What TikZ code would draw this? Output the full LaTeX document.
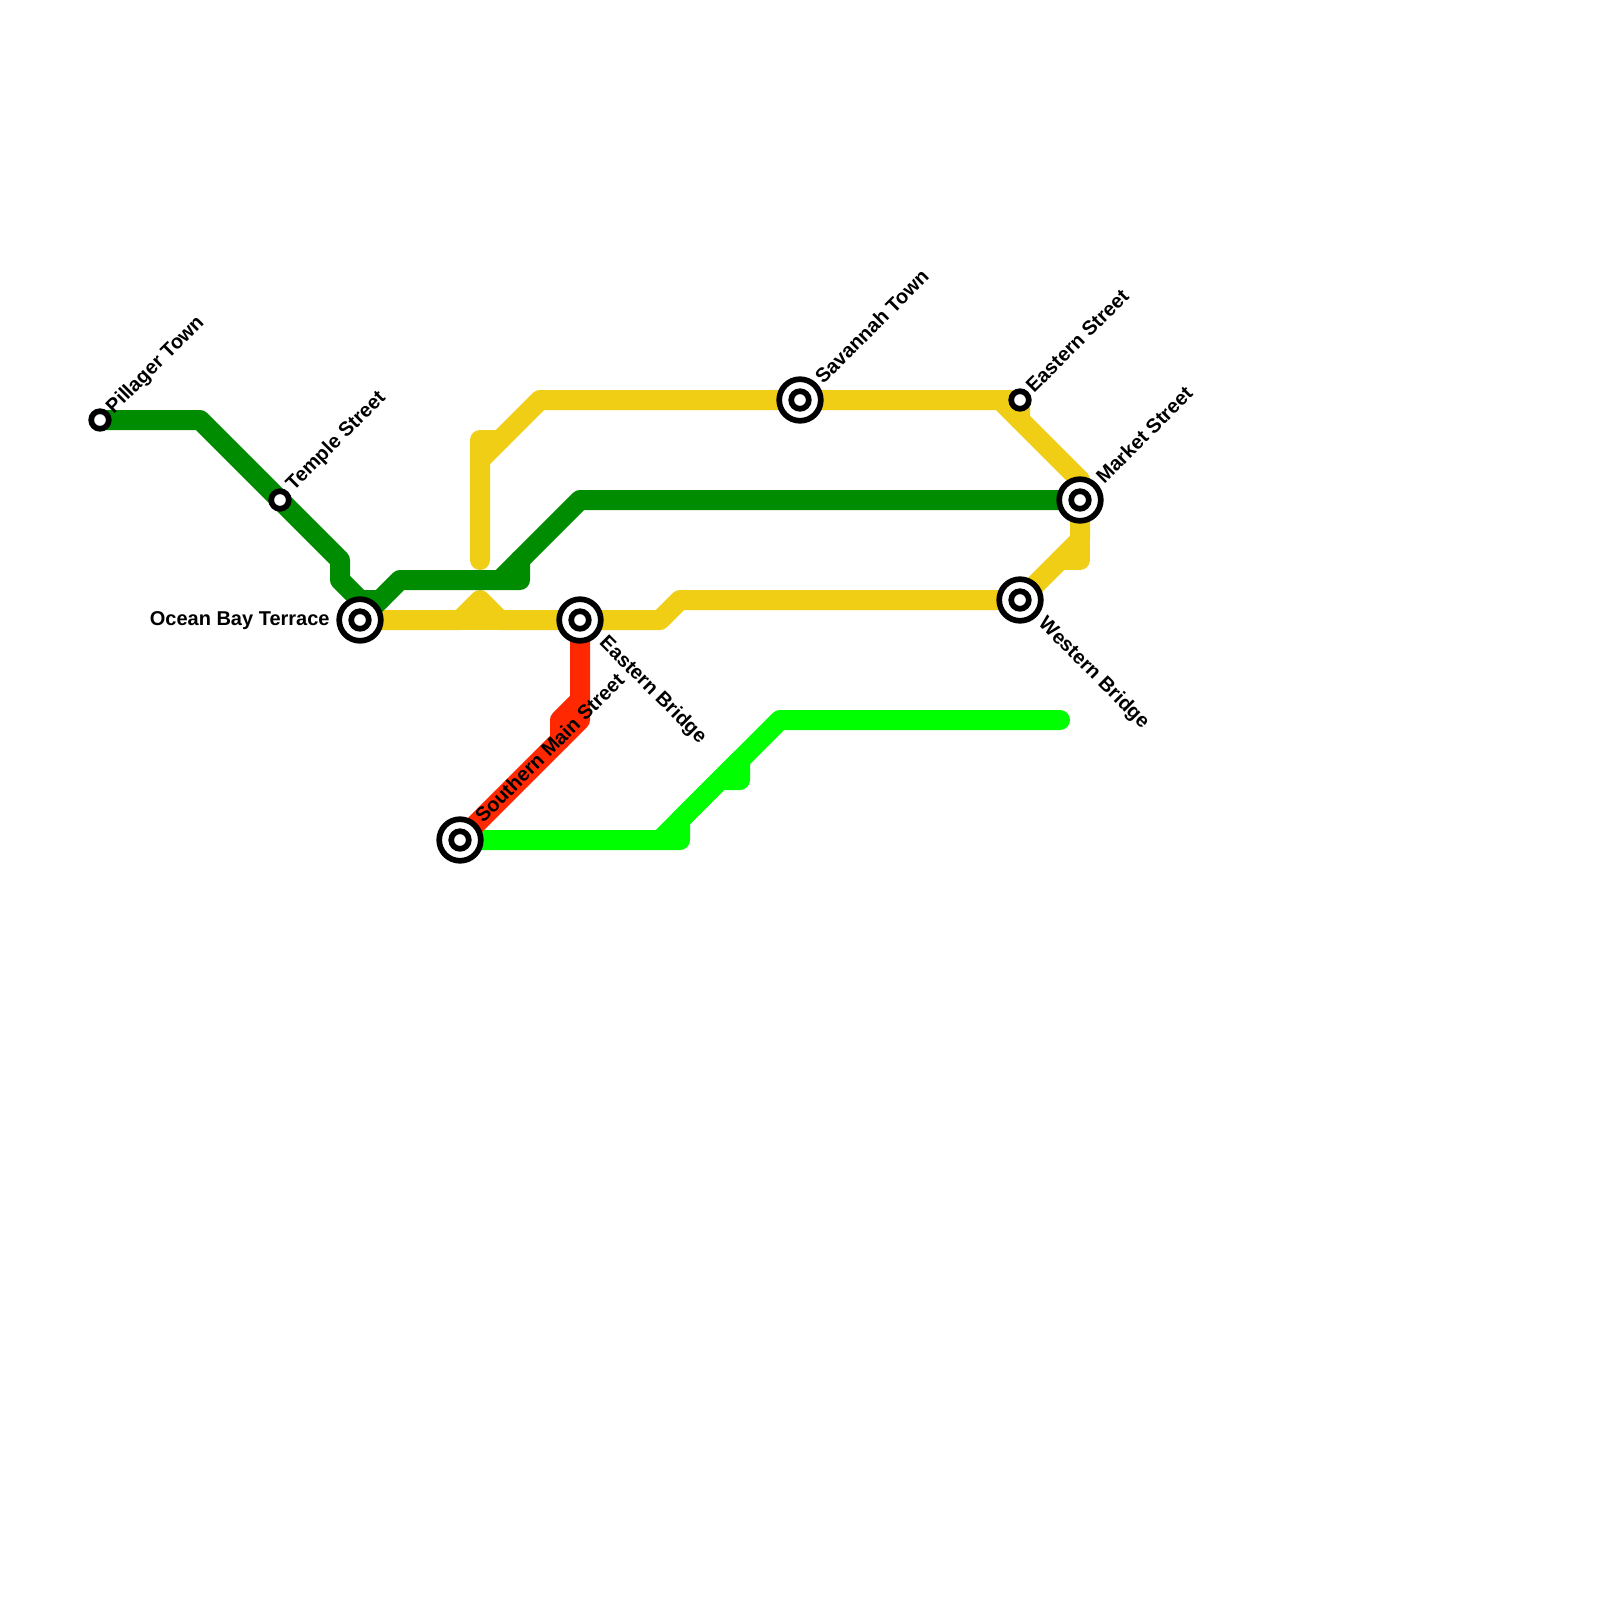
\documentclass[tikz,border=0pt]{standalone}
\usepackage{fontspec}
\setmainfont{Liberation Sans}
\tikzset{
  railpath/.style={line width=10pt,line join=round,line cap=round},
  yellowline/.style={railpath,draw={rgb,255:red,240;green,206;blue,21}},
  darkline/.style={railpath,draw={rgb,255:red,0;green,140;blue,0}},
  brightline/.style={railpath,draw={rgb,255:red,0;green,255;blue,0}},
  redline/.style={railpath,draw={rgb,255:red,255;green,40;blue,0}},
  ringouter/.style={circle,draw=black,fill=white,line width=2.85pt,minimum size=20.8pt,inner sep=0pt,outer sep=0pt},
  ringinner/.style={circle,draw=black,fill=white,line width=2.85pt,minimum size=8.8pt,inner sep=0pt,outer sep=0pt},
  stationlabel/.style={font=\bfseries\fontsize{10}{12}\selectfont,text=black,inner sep=0pt}
}
\begin{document}
\begin{tikzpicture}[x=0.5pt,y=-0.5pt]
\useasboundingbox (0,0) rectangle (1600,1600);
\coordinate (pillager) at (100,420);
\coordinate (temple) at (280,500);
\coordinate (ocean) at (360,620);
\coordinate (savannah) at (800,400);
\coordinate (easternst) at (1020,400);
\coordinate (market) at (1080,500);
\coordinate (western) at (1020,600);
\coordinate (easternbr) at (580,620);
\coordinate (southern) at (460,840);
% yellow
\draw[yellowline] (ocean) -- (460,620) -- (480,600) -- (500,620) -- (660,620) -- (680,600) -- (western) -- (1080,540) -- (market);
\draw[yellowline] (460,620) -- (500,620);
\draw[yellowline] (1080,540) -- (1080,560) -- (1060,560);
\draw[yellowline] (480,560) -- (480,440) -- (500,440) -- (540,400) -- (savannah) -- (easternst) -- (1020,420) -- (1080,480) -- (market);
\draw[yellowline] (480,460) -- (500,440);
\draw[yellowline] (1000,400) -- (1020,420);
% dark green
\draw[darkline] (pillager) -- (200,420) -- (temple) -- (340,560) -- (340,580) -- (360,600) -- (380,600) -- (400,580) -- (520,580) -- (520,560) -- (580,500) -- (market);
\draw[darkline] (360,600) -- (ocean);
\draw[darkline] (500,580) -- (520,560);
\draw[darkline] (380,600) -- (ocean);
% bright green
\draw[brightline] (southern) -- (680,840) -- (680,820) -- (740,760) -- (740,780) -- (720,780);
\draw[brightline] (660,840) -- (780,720) -- (1060,720);
% red
\draw[redline] (easternbr) -- (580,720) -- (southern);
\draw[redline] (580,700) -- (560,720) -- (560,740);
% stations
\foreach \s in {ocean,savannah,market,western,easternbr,southern}{
  \node[ringouter] (\s-o) at (\s) {};
  \node[ringinner] (\s-i) at (\s) {};
}
\foreach \s in {pillager,temple,easternst}{
  \node[ringinner] (\s-i) at (\s) {};
}
% labels
\node[stationlabel,rotate=45,anchor=west] (lpillager) at (110,411) {Pillager Town};
\node[stationlabel,rotate=45,anchor=west] (ltemple) at (290,488) {Temple Street};
\node[stationlabel,anchor=east] (locean) at (330,621) {Ocean Bay Terrace};
\node[stationlabel,rotate=45,anchor=west] (lsavannah) at (818,380) {Savannah Town};
\node[stationlabel,rotate=45,anchor=west] (leasternst) at (1029,389) {Eastern Street};
\node[stationlabel,rotate=45,anchor=west] (lmarket) at (1099,480) {Market Street};
\node[stationlabel,rotate=-45,anchor=west] (lwestern) at (1041,621) {Western Bridge};
\node[stationlabel,rotate=-45,anchor=west] (leasternbr) at (602,640) {Eastern Bridge};
\node[stationlabel,rotate=45,anchor=west] (lsouthern) at (478,819) {Southern Main Street};
\end{tikzpicture}
\end{document}
